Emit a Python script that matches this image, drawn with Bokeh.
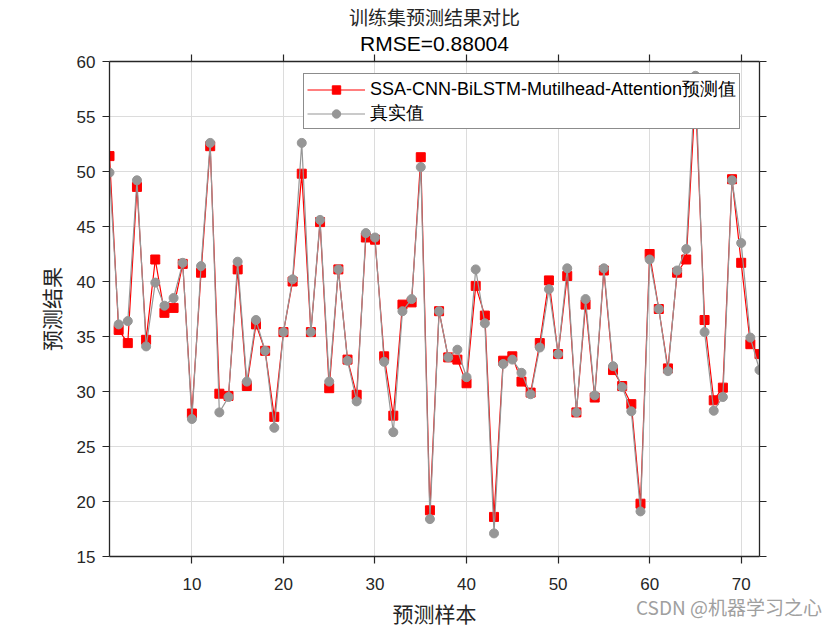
from bokeh.plotting import figure
from bokeh.models import (Range1d, FixedTicker, LinearAxis, Legend, LegendItem,
                          Title, ColumnDataSource, Grid, Div)
from bokeh.layouts import column
from bokeh.embed import file_html
from bokeh.resources import INLINE

sample_idx = list(range(1, 73))
pred_vals = [51.4, 35.6, 34.4, 48.6, 34.7, 42.0, 37.15, 37.6, 41.6, 28.0,
             40.8, 52.3, 29.8, 29.6, 41.1, 30.5, 36.1, 33.7, 27.7, 35.4,
             40.0, 49.8, 35.4, 45.4, 30.3, 41.1, 32.9, 29.7, 44.0, 43.8,
             33.2, 27.8, 37.9, 38.1, 51.3, 19.2, 37.3, 33.1, 32.9, 30.75,
             39.6, 36.9, 18.6, 32.8, 33.2, 30.9, 29.9, 34.4, 40.1, 33.4,
             40.5, 28.1, 37.9, 29.45, 41.0, 31.95, 30.5, 28.85, 19.8, 42.5,
             37.5, 32.1, 40.8, 42.0, 57.0, 36.5, 29.2, 30.35, 49.3, 41.7,
             34.3, 33.4]
true_vals = [49.9, 36.1, 36.4, 49.2, 34.1, 39.9, 37.8, 38.5, 41.7, 27.5,
             41.4, 52.6, 28.1, 29.5, 41.8, 30.9, 36.5, 33.7, 26.7, 35.4,
             40.2, 52.6, 35.4, 45.6, 30.9, 41.1, 32.8, 29.1, 44.4, 44.0,
             32.7, 26.3, 37.3, 38.4, 50.4, 18.4, 37.3, 33.1, 33.8, 31.3,
             41.1, 36.2, 17.1, 32.5, 32.9, 31.7, 29.75, 34.0, 39.3, 33.4,
             41.2, 28.1, 38.4, 29.65, 41.2, 32.3, 30.4, 28.2, 19.1, 42.0,
             37.5, 31.85, 41.0, 42.95, 58.7, 35.4, 28.25, 29.5, 49.2, 43.5,
             34.9, 31.95]
x_ticks = [10, 20, 30, 40, 50, 60, 70]
y_ticks = [15, 20, 25, 30, 35, 40, 45, 50, 55, 60]

title_main = "训练集预测结果对比"
title_sub = "RMSE=0.88004"
pred_label = "SSA-CNN-BiLSTM-Mutilhead-Attention预测值"
true_label = "真实值"
x_label = "预测样本"
y_label = "预测结果"
watermark = "CSDN @机器学习之心"

LATIN = "Liberation Sans"
CJK = "Noto Sans CJK SC"
AX = "#262626"

src = ColumnDataSource(dict(x=sample_idx, pred=pred_vals, true=true_vals))

p = figure(width=840, height=630, output_backend="svg", toolbar_location=None,
           x_range=Range1d(1, 72), y_range=Range1d(15, 60),
           x_axis_location=None, y_axis_location=None,
           min_border_left=109, min_border_right=81, min_border_top=61,
           min_border_bottom=72, title=None)
p.outline_line_color = None
p.background_fill_color = "white"
p.border_fill_color = "white"


def style_axis(ax, ticks, labels=True):
    ax.ticker = FixedTicker(ticks=ticks)
    ax.axis_line_color = AX
    ax.axis_line_width = 1.3
    ax.major_tick_line_color = AX
    ax.major_tick_line_width = 1.2
    ax.major_tick_out = 7
    ax.major_tick_in = 0
    ax.minor_tick_line_color = None
    ax.major_label_text_font = LATIN
    ax.major_label_text_font_size = "17px"
    ax.major_label_text_color = AX
    if not labels:
        ax.major_label_text_font_size = "0px"
        ax.major_label_text_alpha = 0
        ax.major_label_standoff = 0


xb = LinearAxis(axis_label=x_label)
xt = LinearAxis()
yl = LinearAxis(axis_label=y_label)
yr = LinearAxis()
style_axis(xb, x_ticks)
style_axis(xt, x_ticks, False)
style_axis(yl, y_ticks)
style_axis(yr, y_ticks, False)
for ax in (xb, yl):
    ax.axis_label_text_font = CJK
    ax.axis_label_text_font_size = "21px"
    ax.axis_label_text_font_style = "normal"
    ax.axis_label_text_color = AX
xb.major_label_standoff = 14
xb.axis_label_standoff = 5
yl.major_label_standoff = 7
yl.axis_label_standoff = 8

p.add_layout(xb, "below")
p.add_layout(yl, "left")
p.add_layout(yr, "right")
p.add_layout(xt, "above")

p.add_layout(Title(text=title_sub, align="center", text_font=LATIN,
                   text_font_size="21px", text_font_style="normal",
                   text_color="black", standoff=0), "above")
p.add_layout(Title(text=title_main, align="center", text_font=CJK,
                   text_font_size="19px", text_font_style="normal",
                   text_color=AX, standoff=0), "above")

p.add_layout(Grid(dimension=0, ticker=FixedTicker(ticks=x_ticks),
                  grid_line_color="#dcdcdc", grid_line_width=1))
p.add_layout(Grid(dimension=1, ticker=FixedTicker(ticks=y_ticks),
                  grid_line_color="#dcdcdc", grid_line_width=1))

RED = "#ff0000"
GRAY = "#969696"
r_line = p.line("x", "pred", source=src, line_color=RED, line_width=1.2)
r_pts = p.scatter("x", "pred", source=src, marker="square", size=9,
                  fill_color=RED, line_color=RED)
g_line = p.line("x", "true", source=src, line_color=GRAY, line_width=1.2)
g_pts = p.scatter("x", "true", source=src, marker="circle", size=9,
                  fill_color=GRAY, line_color=GRAY)

legend = Legend(items=[LegendItem(label=pred_label, renderers=[r_line, r_pts]),
                       LegendItem(label=true_label, renderers=[g_line, g_pts])],
                location=(194, 427))
legend.label_text_font = LATIN
legend.label_text_font_size = "18px"
legend.label_text_color = "black"
legend.glyph_width = 58
legend.glyph_height = 21
legend.label_height = 21
legend.label_standoff = 5
legend.spacing = 0
legend.padding = 3
legend.margin = 0
legend.border_line_color = "#1a1a1a"
legend.border_line_width = 1.3
legend.background_fill_color = "white"
legend.background_fill_alpha = 1
p.add_layout(legend, "center")

wm = Div(text=watermark, width=210, height=24,
         styles={"position": "relative", "z-index": "10",
                 "margin-top": "-35px", "margin-left": "636px",
                 "font-family": "'Noto Sans CJK SC', sans-serif",
                 "font-size": "19px", "line-height": "24px",
                 "color": "#a0a0a0", "white-space": "nowrap"})

layout = column(p, wm, spacing=0)
open("out.html", "w").write(file_html(layout, INLINE))
